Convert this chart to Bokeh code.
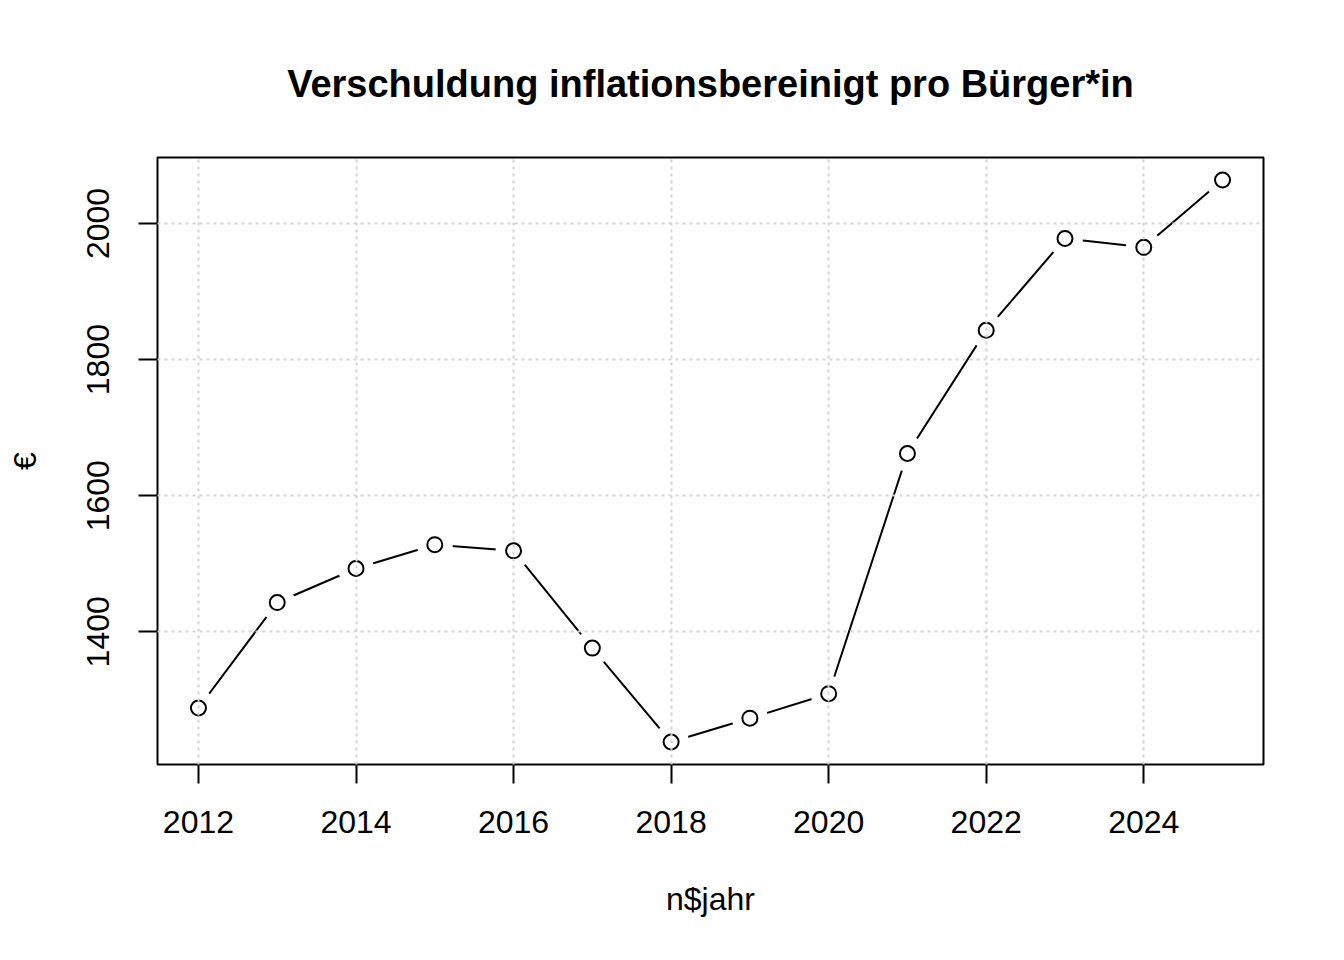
from bokeh.plotting import figure
from bokeh.models import Range1d, FixedTicker
from bokeh.embed import file_html
from bokeh.resources import INLINE

years = [2012, 2013, 2014, 2015, 2016, 2017, 2018, 2019, 2020, 2021, 2022, 2023, 2024, 2025]
debt = [1288, 1443, 1493, 1528, 1519, 1376, 1238, 1273, 1309, 1662, 1843, 1978, 1965, 2064]
x_ticks = [2012, 2014, 2016, 2018, 2020, 2022, 2024]
y_ticks = [1400, 1600, 1800, 2000]

title_text = "Verschuldung inflationsbereinigt pro Bürger*in"
x_label = "n$jahr"
y_label = "€"

FONT = "Liberation Sans"

def padded(vals, frac=0.04):
    lo, hi = min(vals), max(vals)
    d = (hi - lo) * frac
    return lo - d, hi + d

xr = padded(years)
yr = padded(debt)

p = figure(width=1326, height=940, output_backend="svg", toolbar_location=None,
           x_range=Range1d(*xr), y_range=Range1d(*yr),
           min_border_left=157, min_border_right=63, min_border_top=157, min_border_bottom=176)
p.background_fill_color = "white"
p.border_fill_color = "white"
p.outline_line_color = "black"
p.outline_line_width = 2

p.title.text = title_text
p.title.text_font = FONT
p.title.text_font_size = "38px"
p.title.text_font_style = "bold"
p.title.text_color = "black"
p.title.align = "center"
p.title.standoff = 106

for ax in (p.xaxis[0], p.yaxis[0]):
    ax.axis_line_color = None
    ax.major_tick_line_color = "black"
    ax.major_tick_line_width = 2
    ax.major_tick_out = 19
    ax.major_tick_in = 0
    ax.minor_tick_line_color = None
    ax.major_label_text_font = FONT
    ax.major_label_text_font_size = "32px"
    ax.major_label_text_color = "black"
    ax.axis_label_text_font = FONT
    ax.axis_label_text_font_size = "32px"
    ax.axis_label_text_font_style = "normal"
    ax.axis_label_text_color = "black"

p.xaxis.ticker = FixedTicker(ticks=x_ticks)
p.yaxis.ticker = FixedTicker(ticks=y_ticks)
p.xaxis.axis_label = x_label
p.yaxis.axis_label = y_label
p.xaxis.major_label_standoff = 27
p.yaxis.major_label_standoff = 29
p.xaxis.axis_label_standoff = 45
p.yaxis.axis_label_standoff = 42
p.yaxis.major_label_orientation = "parallel"

for g in (p.xgrid[0], p.ygrid[0]):
    g.grid_line_color = "#D3D3D3"
    g.grid_line_width = 2
    g.grid_line_dash = "3 4"
    g.level = "overlay"
p.xgrid.ticker = FixedTicker(ticks=x_ticks)
p.ygrid.ticker = FixedTicker(ticks=y_ticks)

p.line(years, debt, line_color="black", line_width=2)
p.scatter(years, debt, size=36, fill_color="white", line_color=None)
p.scatter(years, debt, size=15, fill_color=None, line_color="black", line_width=2)

open("out.html", "w").write(file_html(p, INLINE))
